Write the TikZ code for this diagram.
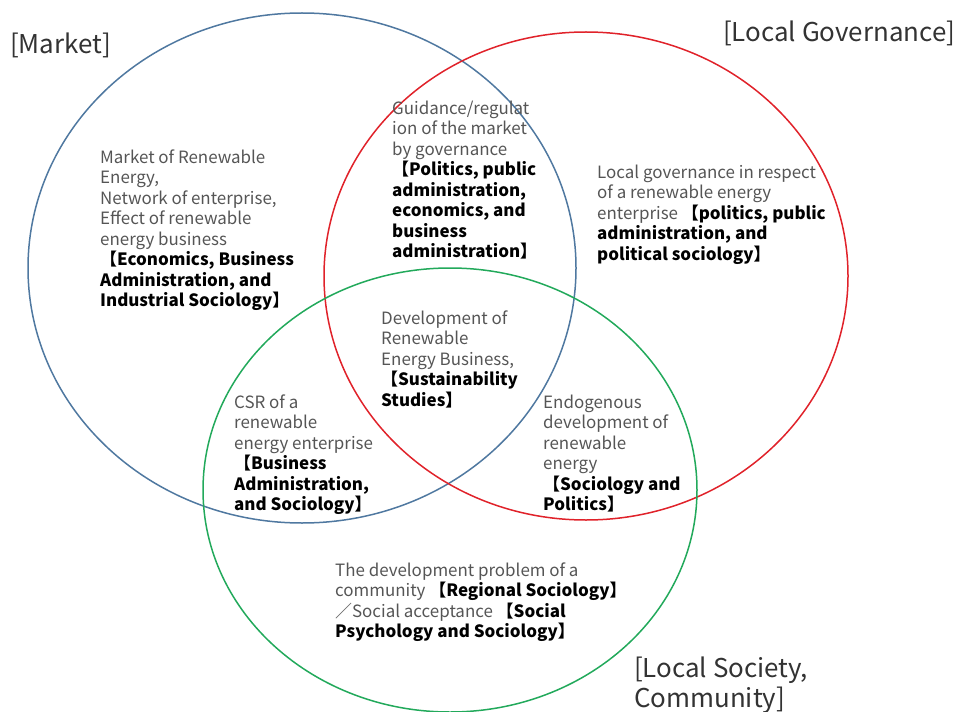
\documentclass[tikz,border=0pt]{standalone}
\usepackage{fontspec}
\setmainfont{Noto Sans CJK JP}
\usepackage{tikz}

\definecolor{marketblue}{HTML}{4F78A0}
\definecolor{govred}{HTML}{E0222A}
\definecolor{socgreen}{HTML}{22A95B}
\definecolor{bodygray}{HTML}{555555}
\definecolor{headgray}{HTML}{333333}

\newcommand{\field}[1]{{\bfseries\color{black}#1}}

\begin{document}
\begin{tikzpicture}[x=1bp, y=-1bp,
	ring/.style={line width=1.5bp},
	body/.style={anchor=base west, align=left, inner sep=0pt, text=bodygray,
		font=\fontsize{17}{20.5}\selectfont},
	head/.style={anchor=base west, align=left, inner sep=0pt, text=headgray,
		font=\fontsize{26}{30}\selectfont}]
	
	\useasboundingbox (0,0) rectangle (957,712);
	
	\draw[ring, marketblue] (302,268) ellipse [x radius=274, y radius=255];
	\draw[ring, govred] (586,276) ellipse [x radius=262, y radius=244];
	\draw[ring, socgreen] (450,490) ellipse [x radius=247, y radius=222];
	
	% headings (placed at the baseline of their last line)
	\node[head] (market) at (10,54) {[Market]};
	\node[head] (gov) at (723,42) {[Local Governance]};
	\node[head] (society) at (634,707) {[Local Society,\\Community]};
	
	% region texts
	\node[body] (mkt) at (100,306.5) {Market of Renewable\\Energy,\\Network of enterprise,\\Effect of renewable\\energy business\\\field{【Economics, Business}\\\field{Administration, and}\\\field{Industrial Sociology】}};
	
	\node[body] (guide) at (392,257.5) {Guidance/regulat\\ion of the market\\by governance\\\field{【Politics, public}\\\field{administration,}\\\field{economics, and}\\\field{business}\\\field{administration】}};
	
	\node[body] (localgov) at (597,260) {Local governance in respect\\of a renewable energy\\enterprise \field{【politics, public}\\\field{administration, and}\\\field{political sociology】}};
	
	\node[body] (devel) at (381,406) {Development of\\Renewable\\Energy Business,\\\field{【Sustainability}\\\field{Studies】}};
	
	\node[body] (csr) at (234,510.5) {CSR of a\\renewable\\energy enterprise\\\field{【Business}\\\field{Administration,}\\\field{and Sociology】}};
	
	\node[body] (endo) at (543,510.5) {Endogenous\\development of\\renewable\\energy\\\field{【Sociology and}\\\field{Politics】}};
	
	\node[body] (problem) at (335,637.5) {The development problem of a\\community \field{【Regional Sociology】}\\／Social acceptance \field{【Social}\\\field{Psychology and Sociology】}};
	
\end{tikzpicture}
\end{document}
